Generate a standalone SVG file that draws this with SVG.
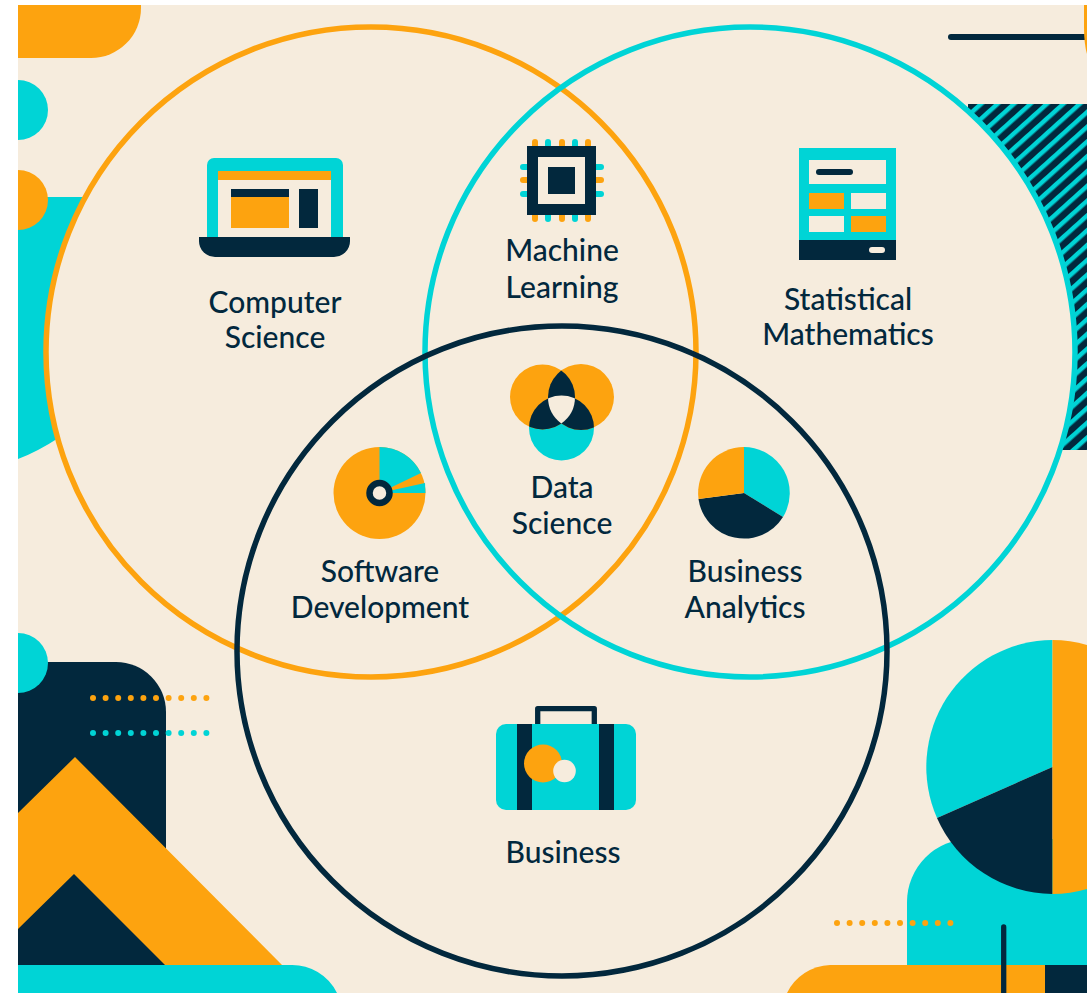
<svg xmlns="http://www.w3.org/2000/svg" width="1087" height="993" viewBox="0 0 1087 993">
<style>
.o{fill:#fda30f}.t{fill:#00d4d6}.n{fill:#02283d}.b{fill:#f6ecdd}
.ring{fill:none;stroke-width:5.5}
text{font-family:"Lato","Liberation Sans",sans-serif;font-size:30px;fill:#02283d;text-anchor:middle;font-weight:500}
</style>
<defs>
<pattern id="hatch" width="11" height="11" patternUnits="userSpaceOnUse" patternTransform="rotate(-42 1000 100)">
<rect width="11" height="11" class="n"/><rect width="11" height="4.500" class="t"/>
</pattern>
<clipPath id="page"><rect x="18" y="5" width="1069" height="988"/></clipPath>
<clipPath id="ca"><circle cx="542.500" cy="397" r="32.500"/></clipPath>
<clipPath id="cb"><circle cx="581" cy="397" r="33"/></clipPath>
<clipPath id="cab" clip-path="url(#ca)"><circle cx="581" cy="397" r="33"/></clipPath>
</defs>
<rect width="1087" height="993" fill="#fff"/>
<g id="background" clip-path="url(#page)">
<rect x="18" y="5" width="1069" height="988" class="b"/>
<path class="o" d="M18 5H141V8A50 50 0 0 1 91 58H18Z"/>
<circle class="t" cx="18" cy="110" r="30"/>
<path class="t" d="M18 197H90V430L60 437Q37 452 18 459Z"/>
<rect x="968" y="104" width="119" height="346" fill="url(#hatch)"/>
<circle class="b" cx="371" cy="352" r="326"/>
<circle class="b" cx="750" cy="352" r="326"/>
<circle class="o" cx="18" cy="200" r="30"/>
<line x1="951" y1="37" x2="1087" y2="37" stroke="#02283d" stroke-width="6" stroke-linecap="round"/>
<path class="o" d="M1084 5V27Q1084 44 1087 54V5Z"/>
<path class="n" d="M18 662H116A50 50 0 0 1 166 712V965H18Z"/>
<circle class="t" cx="18" cy="663" r="30"/>
<path class="o" d="M18 813L75 757L282 965H165L74 874L18 929Z"/>
<path class="t" d="M18 965H290A50 50 0 0 1 337 993H18Z"/>
<g class="o"><circle cx="93" cy="698" r="3"/><circle cx="105.600" cy="698" r="3"/><circle cx="118.200" cy="698" r="3"/><circle cx="130.800" cy="698" r="3"/><circle cx="143.400" cy="698" r="3"/><circle cx="156" cy="698" r="3"/><circle cx="168.600" cy="698" r="3"/><circle cx="181.200" cy="698" r="3"/><circle cx="193.800" cy="698" r="3"/><circle cx="206.400" cy="698" r="3"/></g>
<g class="t"><circle cx="93" cy="733" r="3"/><circle cx="105.600" cy="733" r="3"/><circle cx="118.200" cy="733" r="3"/><circle cx="130.800" cy="733" r="3"/><circle cx="143.400" cy="733" r="3"/><circle cx="156" cy="733" r="3"/><circle cx="168.600" cy="733" r="3"/><circle cx="181.200" cy="733" r="3"/><circle cx="193.800" cy="733" r="3"/><circle cx="206.400" cy="733" r="3"/></g>
<path class="t" d="M907 965V902A63 63 0 0 1 970 839H1087V965Z"/>
<path class="t" d="M1052.500 640A127 127 0 0 0 937 818L1052.500 767Z"/>
<path class="n" d="M937 818A127 127 0 0 0 1052.500 894V767Z"/>
<path class="o" d="M1052.500 640A127 127 0 0 1 1087 645V889A127 127 0 0 1 1052.500 894Z"/>
<g class="o"><circle cx="837" cy="923" r="3"/><circle cx="849.600" cy="923" r="3"/><circle cx="862.200" cy="923" r="3"/><circle cx="874.800" cy="923" r="3"/><circle cx="887.400" cy="923" r="3"/><circle cx="900" cy="923" r="3"/><circle cx="912.600" cy="923" r="3"/><circle cx="925.200" cy="923" r="3"/><circle cx="937.800" cy="923" r="3"/><circle cx="950.400" cy="923" r="3"/></g>
<path class="o" d="M787 993A50 50 0 0 1 830 965H1045V993Z"/>
<rect x="1045" y="965" width="42" height="28" class="n"/>
<line x1="1003.700" y1="927" x2="1003.700" y2="993" stroke="#02283d" stroke-width="5.300" stroke-linecap="round"/>
</g>
<g id="connectors">
<circle class="ring" cx="371" cy="352" r="325" stroke="#fda30f"/>
<circle class="ring" cx="750" cy="352" r="325" stroke="#00d4d6"/>
<circle class="ring" cx="562" cy="651" r="325" stroke="#02283d"/>
</g>
<g id="computer-science">
<path class="t" d="M207 165a7 7 0 0 1 7-7H336a7 7 0 0 1 7 7V238H207Z"/>
<rect x="218" y="171" width="113" height="67" class="b"/>
<rect x="218" y="171" width="113" height="9" class="o"/>
<rect x="231" y="189" width="58" height="39" class="o"/>
<rect x="231" y="189" width="58" height="8" class="n"/>
<rect x="299" y="189" width="19" height="39" class="n"/>
<path class="n" d="M199 237H350V241A16 16 0 0 1 334 257H215A16 16 0 0 1 199 241Z"/>
<text x="275" y="312.500">Computer</text><text x="275" y="347.500">Science</text>
</g>
<g id="machine-learning">
<g class="o"><rect x="532" y="139" width="6" height="83" rx="3"/><rect x="559" y="139" width="6" height="83" rx="3"/><rect x="585" y="139" width="6" height="83" rx="3"/><rect x="520" y="177" width="84" height="6" rx="3"/></g>
<g class="t"><rect x="545" y="139" width="6" height="83" rx="3"/><rect x="572" y="139" width="6" height="83" rx="3"/><rect x="520" y="164" width="84" height="6" rx="3"/><rect x="520" y="191" width="84" height="6" rx="3"/></g>
<rect x="527" y="146" width="69" height="69" class="n"/>
<rect x="538" y="157" width="47" height="47" class="b"/>
<rect x="548" y="167" width="27" height="27" class="n"/>
<text x="562" y="261">Machine</text><text x="562" y="297.500">Learning</text>
</g>
<g id="statistical-mathematics">
<rect x="799" y="148" width="97" height="92" class="t"/>
<rect x="809" y="160" width="77" height="24" class="b"/>
<rect x="816" y="169" width="37" height="6" rx="3" class="n"/>
<rect x="809" y="193" width="35" height="16" class="o"/>
<rect x="851" y="193" width="35" height="16" class="b"/>
<rect x="809" y="216" width="35" height="16" class="b"/>
<rect x="851" y="216" width="35" height="16" class="o"/>
<rect x="799" y="240" width="97" height="20" class="n"/>
<rect x="869" y="247" width="16" height="6" rx="3" class="b"/>
<text x="848" y="310">Statistical</text><text x="848" y="345">Mathematics</text>
</g>
<g id="data-science">
<circle class="t" cx="561.500" cy="428" r="32.500"/>
<circle class="o" cx="542.500" cy="397" r="32.500"/>
<circle class="o" cx="581" cy="397" r="33"/>
<circle class="n" cx="581" cy="397" r="33" clip-path="url(#ca)"/>
<circle class="n" cx="561.500" cy="428" r="32.500" clip-path="url(#ca)"/>
<circle class="n" cx="561.500" cy="428" r="32.500" clip-path="url(#cb)"/>
<circle class="b" cx="561.500" cy="428" r="32.500" clip-path="url(#cab)"/>
<text x="562" y="498">Data</text><text x="562" y="534">Science</text>
</g>
<g id="software-development">
<circle class="o" cx="379.500" cy="493" r="46"/>
<path class="t" d="M379.500 447A46 46 0 0 1 421 473L379.500 493Z"/>
<path class="t" d="M379.500 493L425 483L425.500 493Z"/>
<circle cx="379.500" cy="493" r="10" class="b" stroke="#02283d" stroke-width="6.500"/>
<text x="380" y="582">Software</text><text x="380" y="618">Development</text>
</g>
<g id="business-analytics">
<path class="t" d="M744 447A46 46 0 0 1 783 517L744 493Z"/>
<path class="n" d="M783 517A46 46 0 0 1 698.500 499L744 493Z"/>
<path class="o" d="M698.500 499A46 46 0 0 1 744 447V493Z"/>
<text x="745" y="582">Business</text><text x="745" y="618">Analytics</text>
</g>
<g id="business">
<path d="M537.700 727V708.700H594.300V727" fill="none" stroke="#02283d" stroke-width="5.300" stroke-linejoin="round"/>
<rect x="496" y="724" width="140" height="86" rx="10" class="t"/>
<rect x="517" y="724" width="15" height="86" class="n"/>
<rect x="599" y="724" width="15" height="86" class="n"/>
<circle cx="543" cy="763.500" r="19" class="o"/>
<circle cx="564.500" cy="771" r="11.300" class="b"/>
<text x="563" y="863">Business</text>
</g>
</svg>
